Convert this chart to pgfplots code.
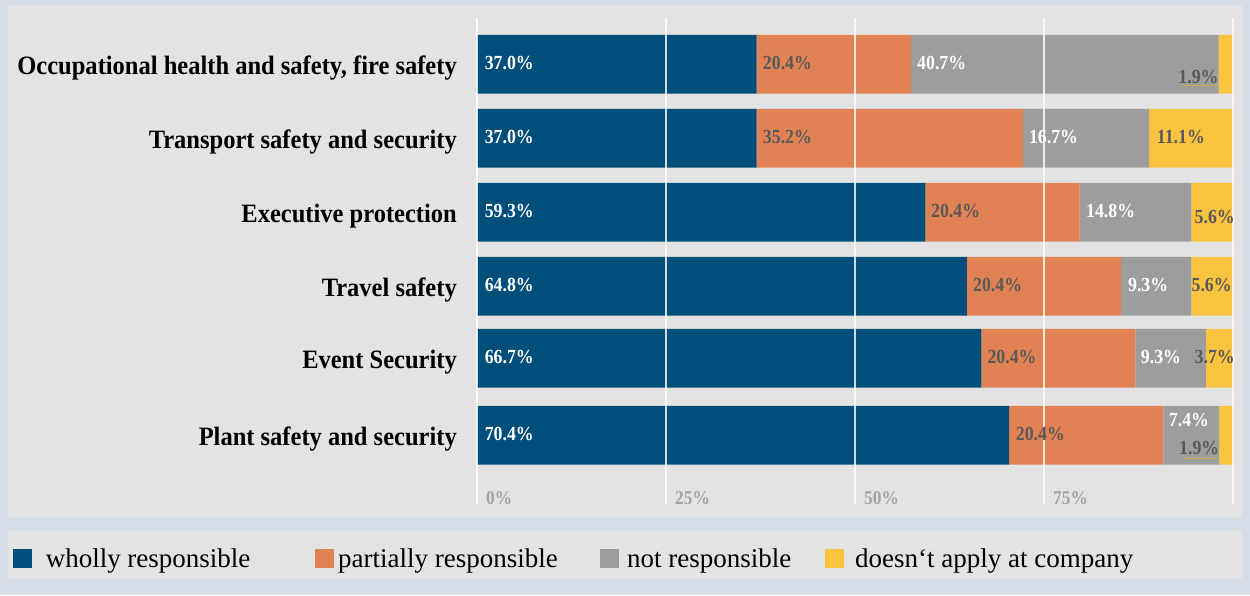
\documentclass[border=0pt]{standalone}
\usepackage{fontspec}
\setmainfont{Liberation Serif}
\newfontfamily\catfont{Liberation Serif}[FakeStretch=0.925]
\newfontfamily\numfont{Liberation Serif}[FakeStretch=0.89]
\usepackage{pgfplots}
\usepackage{pgfplotstable}
\pgfplotsset{compat=1.18}
\definecolor{cblue}{HTML}{004E7A}
\definecolor{corange}{HTML}{E08253}
\definecolor{cgray}{HTML}{9D9D9B}
\definecolor{cyellow}{HTML}{FBC440}
\definecolor{panelbg}{HTML}{E3E3E3}
\definecolor{outerbg}{HTML}{D6DDE8}
\definecolor{lbldark}{HTML}{595959}
\definecolor{tickgray}{HTML}{A3A3A3}
\definecolor{uline}{HTML}{C9AB55}

% y = 503.5 - (row centre in image pixels)
\pgfplotstableread{
y      w     p     n     d
439.2  37.0  20.4  40.7  1.9
365.2  37.0  35.2  16.7  11.1
291.2  59.3  20.4  14.8  5.6
217.2  64.8  20.4  9.3   5.6
145.2  66.7  20.4  9.3   3.7
68.2   70.4  20.4  7.4   1.9
}\data

% value labels: left-aligned, white text
\pgfplotstableread{
x     y      v
1.0   434.2  37.0
58.2  434.2  40.7
1.0   360.2  37.0
73.0  360.2  16.7
1.0   286.2  59.3
80.55 286.2  14.8
1.0   212.2  64.8
86.1  212.2  9.3
1.0   140.2  66.7
87.8  140.2  9.3
1.0   63.2   70.4
91.5  77.5   7.4
}\labw
% value labels: left-aligned, dark text
\pgfplotstableread{
x     y      v
37.8  434.2  20.4
37.8  360.2  35.2
89.9  360.2  11.1
60.05 286.2  20.4
65.6  212.2  20.4
67.5  140.2  20.4
71.25 63.5   20.4
}\labd
% value labels: right-aligned, dark text
\pgfplotstableread{
x      y      v
98.1   419.5  1.9
100.25 280.2  5.6
99.85  212.2  5.6
100.25 140.2  3.7
98.2   49.5   1.9
}\labe

\newcommand{\lblfont}{\numfont\fontsize{20}{22}\selectfont\bfseries}

\pgfplotsset{
  base/.style={
    at={(477pt,91.5pt)}, anchor=south west, scale only axis,
    width=756pt, height=485.5pt,
    xmin=0, xmax=100, ymin=0, ymax=485.5,
    axis line style={draw=none}, major tick length=0pt,
  },
  vlab/.style={only marks, mark=*, mark size=0pt, mark options={draw=none,fill=none},
    point meta=explicit symbolic, nodes near coords={\pgfplotspointmeta\%},
    every node near coord/.append style={anchor=#1, inner sep=0pt, font=\lblfont}},
}

\begin{document}
\begin{tikzpicture}[x=1pt,y=1pt]
\fill[outerbg] (0,0) rectangle (1250,595);
\fill[panelbg] (8,78.5) rectangle (1242,590);
\fill[panelbg] (8,16) rectangle (1242,64);
\begin{axis}[
  base,
  xbar stacked, bar width=58.7,
  xtick=\empty,
  ytick={439.2,365.2,291.2,217.2,145.2,68.2},
  yticklabels={Occupational health and safety{,} fire safety, Transport safety and security, Executive protection, Travel safety, Event Security, Plant safety and security},
  yticklabel style={anchor=base east, inner sep=0pt, xshift=-20pt, yshift=-10.4pt,
    font=\catfont\fontsize{26.5}{30}\selectfont\bfseries, text=black},
  legend columns=4,
  legend style={at={(-0.6138,-0.1133)}, anchor=west, draw=none, fill=none,
    inner sep=0pt, column sep=0pt, row sep=0pt,
    nodes={inner sep=0pt, anchor=west},
    font=\fontsize{27}{30}\selectfont, text=black},
]
\addplot[fill=cblue, draw=none, legend image code/.code={\fill[cblue] (0pt,-9.5pt) rectangle (19pt,9.5pt);}] table[x=w,y=y] {\data};
\addplot[fill=corange, draw=none, legend image code/.code={\fill[corange] (0pt,-9.5pt) rectangle (19pt,9.5pt);}] table[x=p,y=y] {\data};
\addplot[fill=cgray, draw=none, legend image code/.code={\fill[cgray] (0pt,-9.5pt) rectangle (19pt,9.5pt);}] table[x=n,y=y] {\data};
\addplot[fill=cyellow, draw=none, legend image code/.code={\fill[cyellow] (0pt,-9.5pt) rectangle (19pt,9.5pt);}] table[x=d,y=y] {\data};
\addlegendentry{\makebox[283pt][l]{\hspace{13.6pt}wholly responsible}}
\addlegendentry{\makebox[266pt][l]{\hspace{4pt}partially responsible}}
\addlegendentry{\makebox[206pt][l]{\hspace{8pt}not responsible}}
\addlegendentry{\makebox[300pt][l]{\hspace{11pt}doesn‘t apply at company}}
\end{axis}
\begin{axis}[
  base, clip=false,
  ytick=\empty,
  xtick={0,25,50,75,100}, xticklabels={0\%,25\%,50\%,75\%,{}},
  xmajorgrids, major grid style={white, line width=1.6pt, opacity=0.8},
  xticklabel style={anchor=base west, inner sep=0pt, xshift=9pt, yshift=-1pt,
    font=\numfont\fontsize{19.5}{22}\selectfont\bfseries, text=tickgray},
]
\addplot[vlab=base west, every node near coord/.append style={text=white}] table[x=x,y=y,meta=v] {\labw};
\addplot[vlab=base west, every node near coord/.append style={text=lbldark}] table[x=x,y=y,meta=v] {\labd};
\addplot[vlab=base east, every node near coord/.append style={text=lbldark}] table[x=x,y=y,meta=v] {\labe};
\addplot[uline, line width=1.3pt, no marks] coordinates {(93.3,418) (98.1,418)};
\addplot[uline, line width=1.3pt, no marks] coordinates {(93.4,44.8) (98.2,44.8)};
\end{axis}
\end{tikzpicture}
\end{document}
